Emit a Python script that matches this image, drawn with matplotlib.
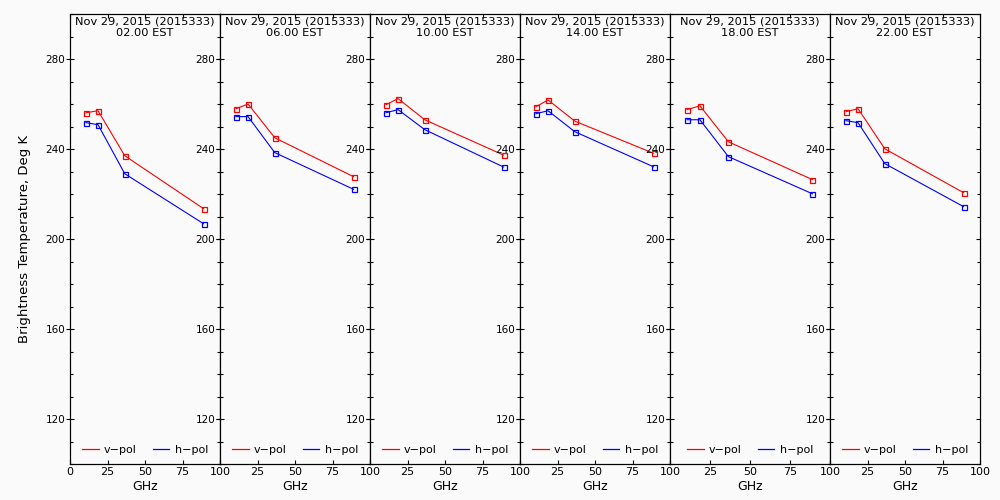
import matplotlib
matplotlib.use("Agg")
import matplotlib.pyplot as plt
from matplotlib.ticker import MultipleLocator, FixedLocator, FixedFormatter, NullFormatter
from matplotlib.lines import Line2D

# ---- data ----
freqs = [10.65, 18.7, 36.5, 89.0]
date_label = "Nov 29, 2015 (2015333)"
hours = ["02.00 EST", "06.00 EST", "10.00 EST", "14.00 EST", "18.00 EST", "22.00 EST"]

vpol_02 = [256.1, 257.0, 237.0, 213.5]
hpol_02 = [251.7, 250.8, 229.0, 206.8]
vpol_06 = [257.9, 260.0, 245.0, 227.7]
hpol_06 = [254.4, 254.4, 238.4, 222.1]
vpol_10 = [259.7, 262.4, 253.0, 237.3]
hpol_10 = [256.1, 257.5, 248.6, 232.0]
vpol_14 = [258.8, 261.8, 252.4, 238.1]
hpol_14 = [255.7, 257.0, 247.7, 232.1]
vpol_18 = [257.5, 259.2, 243.2, 226.4]
hpol_18 = [253.0, 253.0, 236.6, 220.1]
vpol_22 = [256.6, 257.9, 240.1, 220.6]
hpol_22 = [252.6, 251.7, 233.5, 214.4]

vpol = [vpol_02, vpol_06, vpol_10, vpol_14, vpol_18, vpol_22]
hpol = [hpol_02, hpol_06, hpol_10, hpol_14, hpol_18, hpol_22]

xticks = [0, 25, 50, 75, 100]
xticklabels_first = ["0", "25", "50", "75", "100"]
xticklabels_other = ["", "25", "50", "75", "100"]

# ---- layout ----
BG = "#fafafa"
W, H = 1000, 500
edges = [70, 220, 370, 520, 670, 830, 980]
top_px, bot_px = 14, 464

fig = plt.figure(figsize=(W / 100, H / 100), dpi=100, facecolor=BG)

for i in range(6):
    x0 = edges[i] / W
    w = (edges[i + 1] - edges[i]) / W
    ax = fig.add_axes([x0, 1 - bot_px / H, w, (bot_px - top_px) / H])
    ax.set_facecolor(BG)
    ax.plot(freqs, vpol[i], color="#ff0000", lw=0.8, marker="s", ms=3.6,
            mfc="none", mec="#ff0000", mew=0.9)
    ax.plot(freqs, hpol[i], color="#0000ff", lw=0.8, marker="s", ms=3.6,
            mfc="none", mec="#0000ff", mew=0.9)
    ax.set_xlim(0, 100)
    ax.set_ylim(100, 300)
    for s in ax.spines.values():
        s.set_linewidth(0.8)
        s.set_color("black")

    ax.yaxis.set_major_locator(MultipleLocator(40))
    ax.yaxis.set_minor_locator(MultipleLocator(10))
    ax.tick_params(axis="y", which="major", direction="inout", length=6,
                   width=0.8, labelsize=7.5, pad=0.5, right=False, left=True)
    ax.tick_params(axis="y", which="minor", direction="in", length=2.5,
                   width=0.8, right=False, left=True)

    # right-side ticks pointing inward
    rax = ax.twinx()
    rax.set_ylim(100, 300)
    rax.yaxis.set_major_locator(MultipleLocator(40))
    rax.yaxis.set_minor_locator(MultipleLocator(10))
    rax.yaxis.set_major_formatter(NullFormatter())
    rax.tick_params(axis="y", which="major", direction="in", length=3,
                    width=0.8)
    rax.tick_params(axis="y", which="minor", direction="in", length=2.5,
                    width=0.8)
    for s in rax.spines.values():
        s.set_linewidth(0.8)

    ax.xaxis.set_major_locator(FixedLocator(xticks))
    ax.xaxis.set_major_formatter(FixedFormatter(
        xticklabels_first if i == 0 else xticklabels_other))
    ax.tick_params(axis="x", which="major", direction="in", length=3,
                   width=0.8, labelsize=8, pad=2.5, top=True, bottom=True)
    ax.set_xlabel("GHz", fontsize=9, labelpad=2)

    ax.text(0.5, 0.994, date_label + "\n" + hours[i], transform=ax.transAxes,
            ha="center", va="top", fontsize=8.2, linespacing=1.1)

    handles = [Line2D([], [], color="#ff0000", lw=0.9),
               Line2D([], [], color="#0000ff", lw=0.9)]
    ax.legend(handles, ["v\u2212pol", "h\u2212pol"], loc="center",
              bbox_to_anchor=(0.5, 14 / (bot_px - top_px)), ncol=2,
              frameon=False, fontsize=8, handlelength=1.5, handletextpad=0.5,
              columnspacing=1.4, borderpad=0, borderaxespad=0)

fig.text(0.025, 1 - 239 / H, "Brightness Temperature, Deg K", rotation=90,
         ha="center", va="center", fontsize=9.5)

fig.savefig("out.png", dpi=100, facecolor=BG)
